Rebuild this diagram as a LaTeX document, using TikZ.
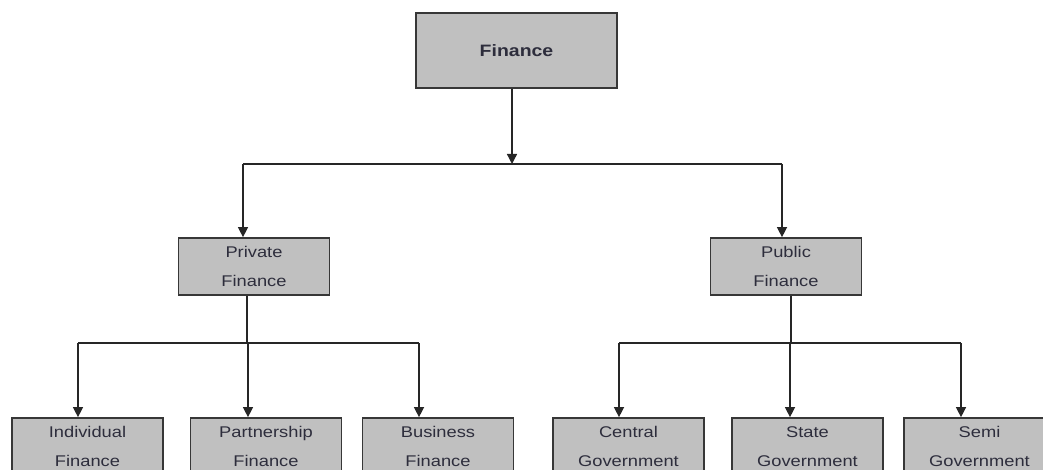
\documentclass[tikz,border=0pt]{standalone}
\usepackage{fontspec}
\setmainfont{Liberation Sans}
\newfontfamily\diagfont[FakeStretch=1.18]{Liberation Sans}
\usetikzlibrary{arrows.meta}
\definecolor{boxfill}{RGB}{192,192,192}
\definecolor{boxline}{RGB}{55,55,55}
\definecolor{txt}{RGB}{45,45,60}
\tikzset{
  box/.style={draw=boxline, line width=1.7pt, fill=boxfill, rectangle, inner sep=0pt,
    minimum width=151pt, minimum height=57pt, align=center, text=txt,
    font={\diagfont\fontsize{15.5}{29}\selectfont}},
  topbox/.style={box, minimum width=201pt, minimum height=75pt,
    font={\diagfont\bfseries\fontsize{16.5}{20}\selectfont}},
  conn/.style={draw=black!85, line width=1.3pt},
  arr/.style={conn, -{Triangle[length=10pt,width=10pt]}}
}
\begin{document}
\begin{tikzpicture}[x=1pt,y=-1pt]
\useasboundingbox (0,0) rectangle (1043,470);
\clip (0,0) rectangle (1043,470);
\fill[white] (0,0) rectangle (1043,470);
% nodes
\node[topbox] (fin) at (516.5,50.5) {Finance};
\node[box] (priv) at (254,266.5) {Private\\Finance};
\node[box] (pub) at (786,266.5) {Public\\Finance};
\node[box] (ind) at (87.5,446.5) {Individual\\Finance};
\node[box] (part) at (266,446.5) {Partnership\\Finance};
\node[box] (bus) at (438,446.5) {Business\\Finance};
\node[box] (cen) at (628.5,446.5) {Central\\Government};
\node[box] (sta) at (807.5,446.5) {State\\Government};
\node[box] (sem) at (979.5,446.5) {Semi\\Government};
% junction coordinates
\coordinate (j0) at (512,164);
\coordinate (jl) at (243,164);
\coordinate (jr) at (782,164);
\coordinate (pl) at (247,343);
\coordinate (pr) at (791,343);
\coordinate (l1) at (78,343);
\coordinate (l2) at (248,343);
\coordinate (l3) at (419,343);
\coordinate (r1) at (619,343);
\coordinate (r2) at (790,343);
\coordinate (r3) at (961,343);
% connectors
\draw[arr] (fin.south -| j0) -- (j0);
\draw[conn] (jl) -- (jr);
\draw[arr] (jl) -- (jl |- priv.north);
\draw[arr] (jr) -- (jr |- pub.north);
\draw[conn] (priv.south -| pl) -- (pl);
\draw[conn] (pub.south -| pr) -- (pr);
\draw[conn] (l1) -- (l3);
\draw[conn] (r1) -- (r3);
\draw[arr] (l1) -- (l1 |- ind.north);
\draw[arr] (l2) -- (l2 |- part.north);
\draw[arr] (l3) -- (l3 |- bus.north);
\draw[arr] (r1) -- (r1 |- cen.north);
\draw[arr] (r2) -- (r2 |- sta.north);
\draw[arr] (r3) -- (r3 |- sem.north);
\end{tikzpicture}
\end{document}
